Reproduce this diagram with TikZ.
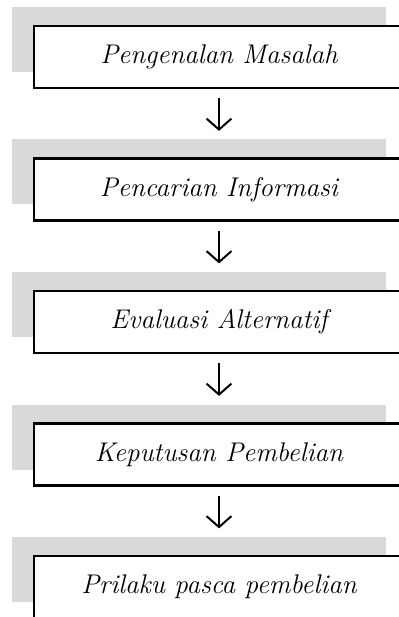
\documentclass[tikz,border=0pt]{standalone}
\usepackage{fontspec}
\usepackage{tikz}
\usetikzlibrary{arrows.meta,positioning}
\definecolor{bayanggray}{RGB}{217,217,217}

\tikzset{
  tahap/.style={draw, line width=2.2pt, fill=white, minimum width=370pt,
    minimum height=62pt, inner sep=0pt, font=\fontsize{27}{32}\selectfont\itshape},
  bayang/.style={fill=bayanggray},
  panah/.style={-{Straight Barb[length=11pt,width=25pt]}, line width=2pt,
    shorten <=9pt, shorten >=26.5pt}
}

\begin{document}
\begin{tikzpicture}[x=1pt,y=-1pt]
  \useasboundingbox (0,0) rectangle (398,617);

  % grey blocks behind the boxes
  \fill[bayang] (12,7) rectangle (386,72);
  \fill[bayang] (12,139.5) rectangle (386,204.5);
  \fill[bayang] (12,272) rectangle (386,337);
  \fill[bayang] (12,404.5) rectangle (386,469.5);
  \fill[bayang] (12,537) rectangle (386,602);

  \node[tahap] (masalah) at (219,57) {Pengenalan Masalah};
  \node[tahap] (informasi) at (219,189.5) {Pencarian Informasi};
  \node[tahap] (evaluasi) at (219,322) {Evaluasi Alternatif};
  \node[tahap] (keputusan) at (219,454.5) {Keputusan Pembelian};
  \node[tahap] (pasca) at (219,587) {Prilaku pasca pembelian};

  \draw[panah] (masalah.south) -- (informasi.north);
  \draw[panah] (informasi.south) -- (evaluasi.north);
  \draw[panah] (evaluasi.south) -- (keputusan.north);
  \draw[panah] (keputusan.south) -- (pasca.north);

\end{tikzpicture}
\end{document}
